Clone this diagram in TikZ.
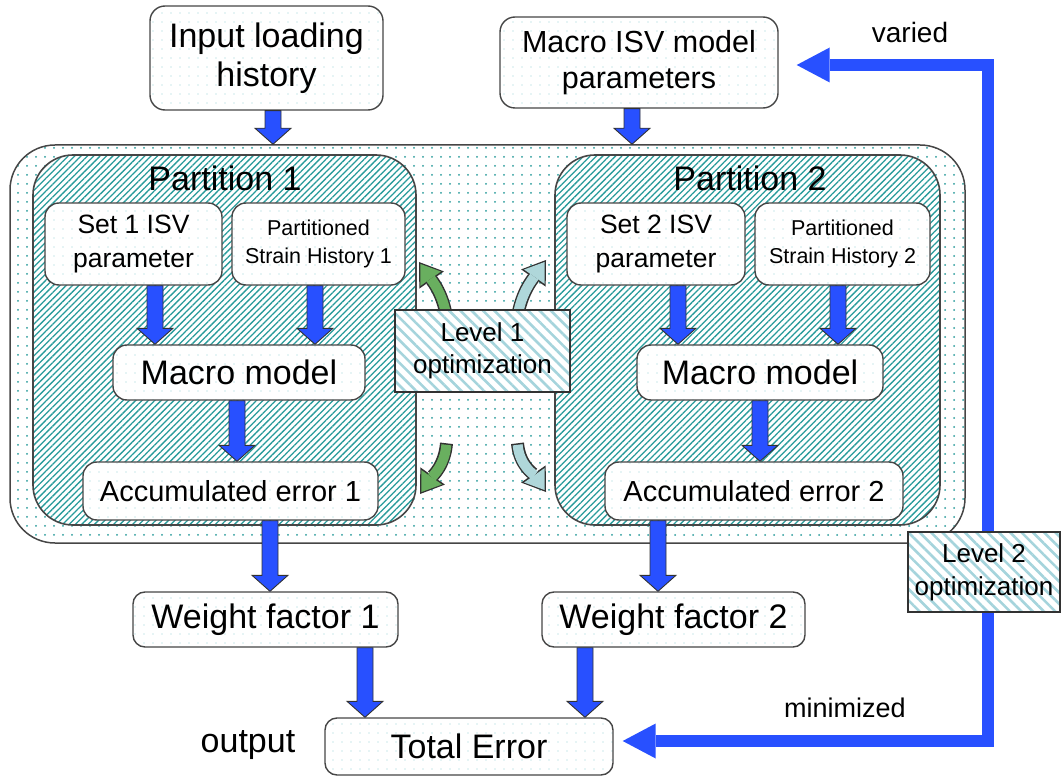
\documentclass[tikz,border=0pt]{standalone}
\usepackage{fontspec}
\setmainfont{Liberation Sans}
\usetikzlibrary{arrows.meta,patterns.meta,calc}
\pgfdeclarelayer{front}
\pgfsetlayers{main,front}

\definecolor{hatchteal}{RGB}{40,155,155}
\definecolor{dotlight}{RGB}{150,210,215}
\definecolor{stripe}{RGB}{165,212,220}
\definecolor{ablue}{RGB}{40,80,255}
\definecolor{grn}{RGB}{105,175,95}
\definecolor{lblue}{RGB}{175,215,218}
\definecolor{outl}{RGB}{50,50,50}
\definecolor{boxline}{RGB}{70,70,70}

\newcommand\fsz[2]{\fontsize{#1}{#2}\selectfont}

% vertical block arrow: from anchor #1 down to anchor #2 at horizontal position #3
\newcommand\barrow[3]{%
  \draw[blockarrow] let \p1=(#1), \p2=(#2), \p3=(#3,0) in
    (\x3-8pt,\y1) -- (\x3-8pt,\y2+16pt) -- (\x3-18pt,\y2+16pt) -- (\x3,\y2)
    -- (\x3+18pt,\y2+16pt) -- (\x3+8pt,\y2+16pt) -- (\x3+8pt,\y1) -- cycle;}

% curved outlined arrow: from #1 to #2, out angle #3, in angle #4, colour #5
\newcommand\curvarrow[5]{%
  \draw[line width=13pt, draw=outl, -{Triangle[length=22pt,width=30pt,line width=0pt]}]
    (#1) to[out=#3,in=#4] (#2);
  \draw[line width=10pt, draw=#5, shorten >=2.4pt, shorten <=1.5pt,
    -{Triangle[length=18pt,width=25pt,line width=0pt]}]
    (#1) to[out=#3,in=#4] (#2);}

\begin{document}
\begin{tikzpicture}[x=1pt,y=-1pt,
  topbox/.style={draw=boxline, line width=1.4pt, rounded corners=15pt,
    preaction={fill=white}, pattern={Dots[distance=9pt,radius=0.6pt]},
    pattern color=dotlight, inner sep=0pt, align=center},
  innerbox/.style={topbox, rounded corners=14pt},
  container/.style={draw=boxline, line width=1.5pt, rounded corners=45pt,
    preaction={fill=white}, pattern={Dots[distance=9pt,radius=1pt]},
    pattern color=hatchteal, inner sep=0pt},
  partition/.style={draw=boxline, line width=1.6pt, rounded corners=40pt,
    preaction={fill=white}, pattern={Lines[angle=45,distance=4.5pt,line width=1.3pt]},
    pattern color=hatchteal, inner sep=0pt},
  optbox/.style={draw=outl, line width=1.4pt, preaction={fill=white},
    pattern={Lines[angle=-45,distance=8pt,line width=2.6pt]},
    pattern color=stripe, inner sep=0pt, align=center},
  title/.style={font=\fsz{34}{39}, inner sep=0pt},
  plain/.style={inner sep=0pt},
  blockarrow/.style={fill=ablue, draw=outl, line width=0.9pt, line join=miter},
  bigline/.style={draw=ablue, line width=12pt, line join=miter,
    {Triangle[length=33pt,width=35pt,line width=0pt]}-{Triangle[length=33pt,width=35pt,line width=0pt]}}
]
\useasboundingbox (0,0) rectangle (1063,778);

% optimisation boxes sit above everything else
\begin{pgfonlayer}{front}
  \node[optbox, minimum width=175pt, minimum height=82pt, font=\fsz{26}{32}] (l1) at (482.5,351) {Level 1\\optimization};
  \node[optbox, minimum width=152pt, minimum height=80pt, font=\fsz{26}{33}] (l2) at (984,572) {Level 2\\optimization};
\end{pgfonlayer}

% containers
\node[container, minimum width=955pt, minimum height=398pt] (outer) at (487.5,344) {};
\node[partition, minimum width=383pt, minimum height=370pt] (p1) at (224.5,340) {};
\node[partition, minimum width=385pt, minimum height=370pt] (p2) at (747.5,340) {};
\node[title] (t1) at (225,178) {Partition 1};
\node[title] (t2) at (750,178) {Partition 2};

% inputs
\node[topbox, minimum width=233pt, minimum height=104pt, font=\fsz{34}{39}] (inp) at (266.5,58) {Input loading\\history};
\node[topbox, minimum width=278pt, minimum height=91pt, font=\fsz{30.5}{36}] (isv) at (639,62.5) {Macro ISV model\\parameters};

% partition 1
\node[innerbox, minimum width=177pt, minimum height=82pt, font=\fsz{26.5}{34}] (s1) at (133.5,244) {Set 1 ISV\\parameter};
\node[innerbox, minimum width=173pt, minimum height=82pt, font=\fsz{21.5}{28}] (h1) at (318.5,244) {Partitioned\\Strain History 1};
\node[innerbox, minimum width=252pt, minimum height=55pt, font=\fsz{34}{39}] (m1) at (239,372.5) {Macro model};
\node[innerbox, minimum width=295pt, minimum height=58pt, font=\fsz{29}{34}] (a1) at (230.5,491) {Accumulated error 1};

% partition 2
\node[innerbox, minimum width=178pt, minimum height=82pt, font=\fsz{26.5}{34}] (s2) at (656,244) {Set 2 ISV\\parameter};
\node[innerbox, minimum width=175pt, minimum height=82pt, font=\fsz{21.5}{28}] (h2) at (842.5,244) {Partitioned\\Strain History 2};
\node[innerbox, minimum width=246pt, minimum height=55pt, font=\fsz{34}{39}] (m2) at (760,372.5) {Macro model};
\node[innerbox, minimum width=298pt, minimum height=58pt, font=\fsz{29}{34}] (a2) at (754,491) {Accumulated error 2};

% weighting and total
\node[topbox, rounded corners=12pt, minimum width=265pt, minimum height=55pt, font=\fsz{34}{39}] (w1) at (265.5,619.5) {Weight factor 1};
\node[topbox, rounded corners=12pt, minimum width=263pt, minimum height=55pt, font=\fsz{34}{39}] (w2) at (673.5,619.5) {Weight factor 2};
\node[topbox, rounded corners=12pt, minimum width=288pt, minimum height=57pt, font=\fsz{34}{39}] (te) at (469,746.5) {Total Error};

% free labels
\node[plain, font=\fsz{34}{39}] (outlbl) at (248,745) {output};
\node[plain, font=\fsz{27}{32}] (minlbl) at (845,708) {minimized};
\node[plain, font=\fsz{28}{32}] (varlbl) at (910,32) {varied};

% block arrows
\barrow{inp.south}{outer.north}{273}
\barrow{isv.south}{outer.north}{632}
\barrow{s1.south}{m1.north}{155}
\barrow{h1.south}{m1.north}{315}
\barrow{m1.south}{a1.north}{237}
\barrow{s2.south}{m2.north}{678}
\barrow{h2.south}{m2.north}{838}
\barrow{m2.south}{a2.north}{760}
\barrow{a1.south}{w1.north}{270}
\barrow{a2.south}{w2.north}{658}
\barrow{w1.south}{te.north}{365}
\barrow{w2.south}{te.north}{585}

% level 1 exchange arrows
\coordinate (gtop) at (419,262);
\coordinate (gbot) at (420,494);
\coordinate (btop) at (546,260);
\coordinate (bbot) at (546,492);
\curvarrow{$(l1.north)+(-36,8)$}{gtop}{100}{-55}{grn}
\curvarrow{$(l1.south)+(-36,50)$}{gbot}{-95}{55}{grn}
\curvarrow{$(l1.north)+(35,8)$}{btop}{80}{-125}{lblue}
\curvarrow{$(l1.south)+(35,50)$}{bbot}{-85}{125}{lblue}

% level 2 feedback loop
\coordinate (vtip) at ($(isv.east)+(18,2.5)$);
\coordinate (mtip) at ($(te.east)+(9,-5.5)$);
\draw[bigline] (mtip) -| (988,65) -- (vtip);

\end{tikzpicture}
\end{document}
